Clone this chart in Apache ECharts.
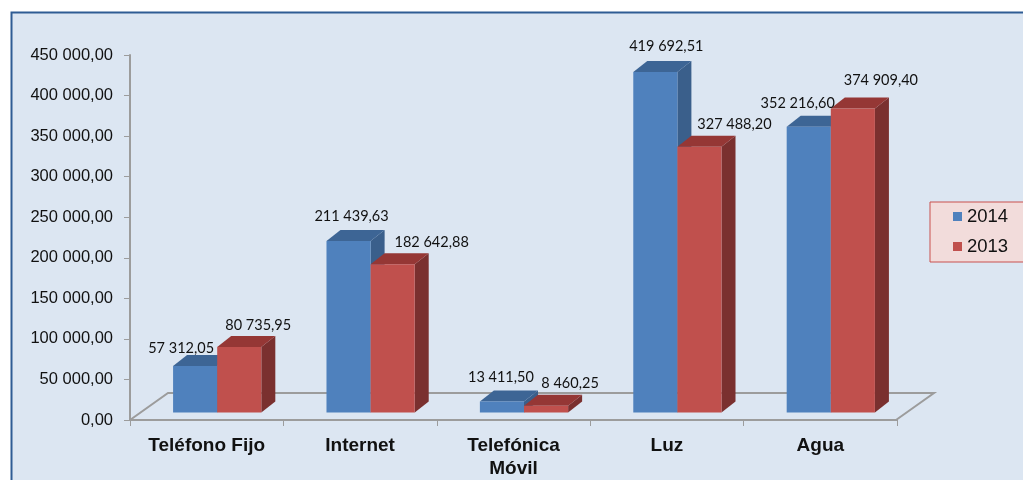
<!DOCTYPE html>
<html>
<head>
<meta charset="utf-8">
<title>Gastos 2014 - 2013</title>
<script src="https://cdn.jsdelivr.net/npm/echarts@6/dist/echarts.min.js"></script>
<style>
  html, body { margin: 0; padding: 0; background: #fff; overflow: hidden; }
  #chart { width: 1023px; height: 480px; }
</style>
</head>
<body>
<div id="chart"></div>
<script>
var categories = ['Teléfono Fijo', 'Internet', 'Telefónica\nMóvil', 'Luz', 'Agua']
var values2014 = [57312.05, 211439.63, 13411.50, 419692.51, 352216.60]
var values2013 = [80735.95, 182642.88, 8460.25, 327488.20, 374909.40]

// hand placed labels in the original, offset from the top middle of each bar
var labelShift2014 = [[-14, -18], [3, -25], [-1, -24], [11, -26], [-11, -23]]
var labelShift2013 = [[19, -22], [39, -22], [24, -22], [35, -23], [28, -28]]

var barWidthRatio = 44 / 153
var frontX = 10.5
var frontY = -7.5
var depthX = 14
var depthY = -11

function fmt (v) {
  return v.toFixed(2).replace('.', ',').replace(/\B(?=(\d{3})+(?!\d))/g, ' ')
}

function cubeSeries (name, values, shifts, side, front, top, depth) {
  return {
    name: name,
    type: 'custom',
    itemStyle: {color: front},
    encode: {x: 0, y: 1},
    data: values.map(function (v, i) { return [i, v] }),
    silent: true,
    clip: false,
    renderItem: function (params, api) {
      var i = api.value(0)
      var v = api.value(1)
      var w = api.size([1, 0])[0] * barWidthRatio
      var topPt = api.coord([i, v])
      var basePt = api.coord([i, 0])
      var x0 = topPt[0] + frontX + side * w
      var x1 = x0 + w
      var y0 = topPt[1] + frontY
      var y1 = basePt[1] + frontY
      var s = shifts[i]
      return {
        type: 'group',
        children: [
          {
            type: 'polygon',
            shape: {points: [[x1, y0], [x1 + depthX, y0 + depthY], [x1 + depthX, y1 + depthY], [x1, y1]]},
            style: {fill: depth}
          },
          {
            type: 'polygon',
            shape: {points: [[x0, y0], [x0 + depthX, y0 + depthY], [x1 + depthX, y0 + depthY], [x1, y0]]},
            style: {fill: top}
          },
          {
            type: 'rect',
            shape: {x: x0, y: y0, width: w, height: y1 - y0},
            style: {fill: front}
          },
          {
            type: 'text',
            z2: 100,
            x: (x0 + x1) / 2 + s[0],
            y: y0 + s[1],
            style: {
              text: fmt(v),
              fill: '#111',
              font: '14.5px Lato',
              align: 'center',
              verticalAlign: 'middle'
            }
          }
        ]
      }
    }
  }
}

var floorSeries = {
  type: 'custom',
  data: [[0, 0]],
  encode: {x: 0, y: 1},
  silent: true,
  clip: false,
  renderItem: function (params) {
    var c = params.coordSys
    var bx = c.x
    var by = c.y + c.height
    var ex = c.x + c.width
    return {
      type: 'polyline',
      shape: {points: [[bx, by], [bx + 38, by - 27], [ex + 37, by - 27], [ex - 1, by]]},
      style: {fill: null, stroke: '#9c9c9c', lineWidth: 2}
    }
  }
}

var myChart = echarts.init(document.getElementById('chart'))
myChart.setOption({
  animation: false,
  graphic: [{
    type: 'rect',
    z: -1,
    silent: true,
    shape: {x: 11.5, y: 12.5, width: 1040, height: 500},
    style: {fill: '#dce6f2', stroke: '#2f5c94', lineWidth: 2}
  }],
  legend: {
    left: 930,
    top: 202,
    orient: 'vertical',
    icon: 'rect',
    itemWidth: 9,
    itemHeight: 9,
    itemGap: 11,
    padding: [5, 40, 6, 23],
    backgroundColor: '#f2dcdb',
    borderColor: '#c9514e',
    borderWidth: 1,
    data: ['2014', '2013'],
    textStyle: {color: '#111', fontSize: 18.5, fontFamily: 'Liberation Sans'}
  },
  grid: {left: 130, right: 126, top: 55, bottom: 60},
  xAxis: {
    type: 'category',
    data: categories,
    offset: 1,
    axisLine: {lineStyle: {color: '#9c9c9c', width: 2}},
    axisTick: {show: true, length: 6, lineStyle: {color: '#9c9c9c', width: 1}},
    axisLabel: {
      interval: 0,
      margin: 13,
      color: '#111',
      fontSize: 19,
      fontWeight: 'bold',
      lineHeight: 23,
      fontFamily: 'Liberation Sans'
    }
  },
  yAxis: {
    type: 'value',
    min: 0,
    max: 450000,
    interval: 50000,
    splitLine: {show: false},
    axisLine: {show: true, lineStyle: {color: '#9c9c9c', width: 2}},
    axisTick: {show: true, length: 6, lineStyle: {color: '#9c9c9c', width: 1}},
    axisLabel: {
      margin: 17,
      color: '#111',
      fontSize: 16.5,
      fontFamily: 'Liberation Sans',
      formatter: fmt
    }
  },
  series: [
    floorSeries,
    cubeSeries('2014', values2014, labelShift2014, -1, '#4f81bd', '#3d6595', '#3a5f8b'),
    cubeSeries('2013', values2013, labelShift2013, 0, '#c0504d', '#953735', '#7a302f')
  ]
})
</script>
</body>
</html>
